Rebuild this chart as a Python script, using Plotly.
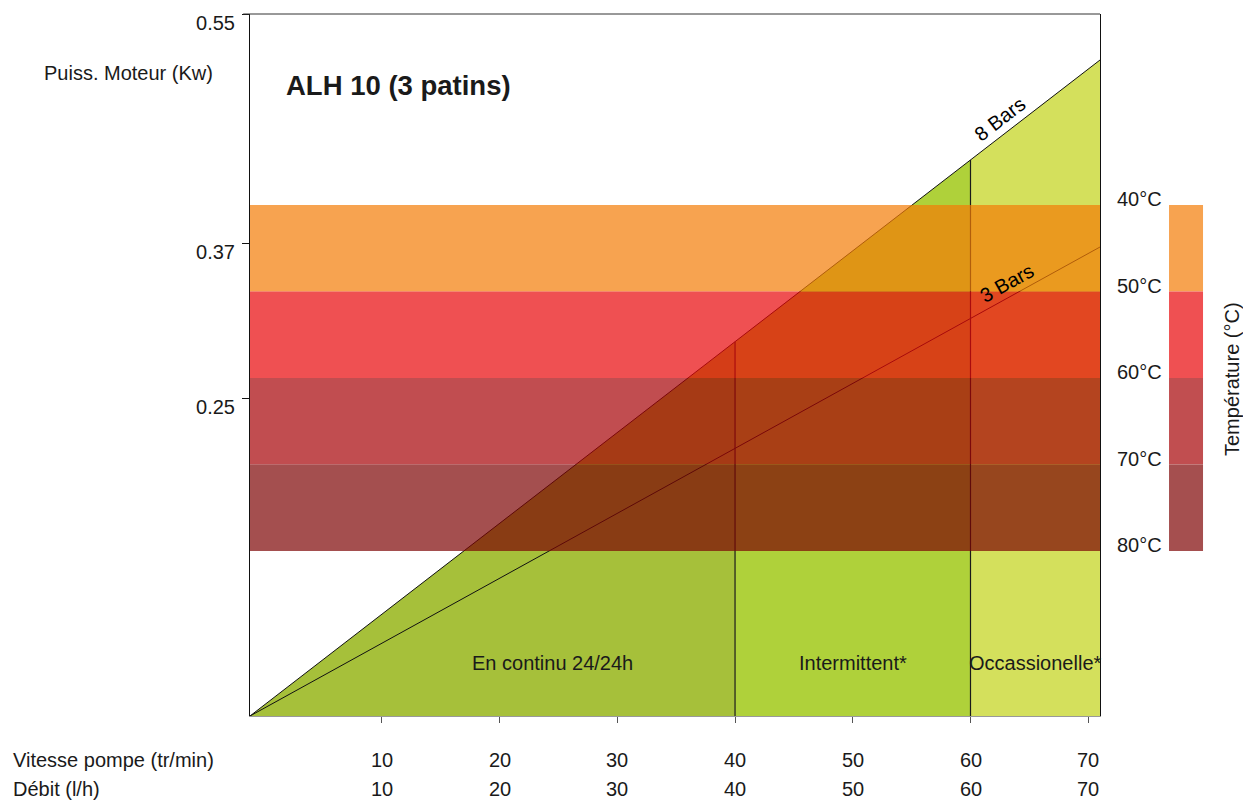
import numpy as np
import plotly.graph_objects as go

# ---------------- data ----------------
# x axis: pump speed (tr/min) and flow (l/h)
x_range = [-1.2, 71.0]
tick_vals = [10, 20, 30, 40, 50, 60, 70]
speed_labels = ["10", "20", "30", "40", "50", "60", "70"]
flow_labels = ["10", "20", "30", "40", "50", "60", "70"]

# y axis: chart units with motor power labels
y_range = [0, 702]
power_tick_pos = [702, 473, 318]
power_tick_text = ["0.55", "0.37", "0.25"]

# pressure lines (from origin to right edge)
bars8_x = [-1.2, 71.0]
bars8_y = [0, 656]
bars3_x = [-1.2, 71.0]
bars3_y = [0, 469]

# duty zones
zone_edges = [-1.2, 40, 60, 71.0]
zone_names = ["En continu 24/24h", "Intermittent*", "Occassionelle*"]
zone_label_x = [24.5, 50, 65.5]
zone_label_y = 53
zone_colors = ["#a6c03a", "#afd13a", "#d4e05c"]

# temperature bands
temp_labels = ["40°C", "50°C", "60°C", "70°C", "80°C"]
temp_edges = [511, 424.5, 338, 251.5, 165]
band_colors = ["#f7a350", "#ef5052", "#c14e50", "#a54f4f"]

# ---------------- styling helpers ----------------
FONT = "Liberation Sans, Arial, Helvetica, sans-serif"
TXT = "#1a1a1a"
FS = 20
ALPHA = 0.7


def hex_rgb(h):
    h = h.lstrip("#")
    return [int(h[i:i + 2], 16) for i in (0, 2, 4)]


def over_white_rgba(h, a=ALPHA):
    # colour that, drawn with opacity a over white, gives h
    c = [max(0, min(255, round((v - (1 - a) * 255) / a))) for v in hex_rgb(h)]
    return f"rgba({c[0]},{c[1]},{c[2]},{a})"


def y8(x):
    return float(np.interp(x, bars8_x, bars8_y))


fig = go.Figure()

# green duty zones under the 8 bar line
for i in range(len(zone_names)):
    xa, xb = zone_edges[i], zone_edges[i + 1]
    fig.add_trace(go.Scatter(
        x=[xa, xa, xb, xb, xa], y=[0, y8(xa), y8(xb), 0, 0],
        fill="toself", fillcolor=zone_colors[i], mode="none",
        hoverinfo="skip", showlegend=False))

# pressure lines
for bx, by in [(bars8_x, bars8_y), (bars3_x, bars3_y)]:
    fig.add_trace(go.Scatter(x=bx, y=by, mode="lines",
                             line=dict(color="#111", width=1),
                             hoverinfo="skip", showlegend=False))

# zone separators
for xe in zone_edges[1:-1]:
    fig.add_trace(go.Scatter(x=[xe, xe], y=[0, y8(xe)], mode="lines",
                             line=dict(color="#1a1a1a", width=1.2),
                             hoverinfo="skip", showlegend=False))

shapes = []
# temperature bands over the chart
for i, col in enumerate(band_colors):
    shapes.append(dict(type="rect", xref="x domain", yref="y",
                       x0=0, x1=1, y0=temp_edges[i + 1], y1=temp_edges[i],
                       fillcolor=over_white_rgba(col), line=dict(width=0),
                       layer="above"))
    # legend swatches
    shapes.append(dict(type="rect", xref="paper", yref="y",
                       x0=1.0812, x1=1.1212, y0=temp_edges[i + 1], y1=temp_edges[i],
                       fillcolor=col, line=dict(width=0), layer="above"))

# top border
shapes.append(dict(type="line", xref="paper", yref="paper", x0=-0.008, x1=1,
                   y0=1, y1=1, line=dict(color="#333", width=1), layer="above"))

annotations = []
annotations.append(dict(text="ALH 10 (3 patins)", xref="paper", yref="y",
                        x=0.04, y=631, xanchor="left", yanchor="middle",
                        showarrow=False,
                        font=dict(family=FONT, size=27.5, color=TXT, weight="bold")))
annotations.append(dict(text="Puiss. Moteur (Kw)", xref="paper", yref="y",
                        x=-0.1435, y=643, xanchor="center", yanchor="middle",
                        showarrow=False, font=dict(family=FONT, size=FS, color=TXT)))
for name, lx in zip(zone_names, zone_label_x):
    annotations.append(dict(text=name, x=lx, y=zone_label_y, xref="x", yref="y",
                            showarrow=False, xanchor="center", yanchor="middle",
                            font=dict(family=FONT, size=FS, color=TXT)))
annotations.append(dict(text="8 Bars", x=62.5, y=597, xref="x", yref="y",
                        textangle=-37.7, showarrow=False,
                        font=dict(family=FONT, size=FS, color="#000")))
annotations.append(dict(text="3 Bars", x=63.1, y=433, xref="x", yref="y",
                        textangle=-29, showarrow=False,
                        font=dict(family=FONT, size=FS, color="#000")))
for lab, ye in zip(temp_labels, temp_edges):
    annotations.append(dict(text=lab, xref="paper", yref="y", x=1.075, y=ye,
                            yshift=6, xanchor="right", yanchor="middle",
                            showarrow=False, font=dict(family=FONT, size=FS, color=TXT)))
annotations.append(dict(text="Température (°C)", xref="paper", yref="y",
                        x=1.1553, y=337, textangle=-90, showarrow=False,
                        xanchor="center", yanchor="middle",
                        font=dict(family=FONT, size=FS, color=TXT)))
# bottom label rows
for row_title, labels, shift in [("Vitesse pompe (tr/min)", speed_labels, -44),
                                 ("Débit (l/h)", flow_labels, -73)]:
    annotations.append(dict(text=row_title, xref="paper", yref="paper",
                            x=-0.2812, y=0, yshift=shift, xanchor="left",
                            yanchor="middle", showarrow=False,
                            font=dict(family=FONT, size=FS, color=TXT)))
    for tv, lab in zip(tick_vals, labels):
        annotations.append(dict(text=lab, xref="x", yref="paper", x=tv, y=0,
                                yshift=shift, xanchor="center", yanchor="middle",
                                showarrow=False,
                                font=dict(family=FONT, size=FS, color=TXT)))

fig.update_layout(
    width=1243, height=800,
    margin=dict(l=250, r=143, t=14, b=84),
    plot_bgcolor="white", paper_bgcolor="white",
    shapes=shapes, annotations=annotations,
    xaxis=dict(range=x_range, tickvals=tick_vals, showticklabels=False,
               ticks="outside", ticklen=6, tickcolor="#555",
               showline=True, linecolor="#999", linewidth=1,
               showgrid=False, zeroline=False, fixedrange=True),
    yaxis=dict(range=y_range, tickvals=power_tick_pos, ticktext=power_tick_text,
               ticks="outside", ticklen=7, tickcolor="#111",
               ticklabelshift=9, ticklabelstandoff=3,
               tickfont=dict(family=FONT, size=FS, color=TXT),
               showline=True, linecolor="#111", linewidth=1, mirror=True,
               showgrid=False, zeroline=False, fixedrange=True),
    showlegend=False,
)

# remove the browser's default body margin so the 1243x800 figure fills the window
fig.write_html(
    "out.html",
    config={"displayModeBar": False},
    post_script="document.body.style.margin='0';document.body.style.overflow='hidden';",
)
